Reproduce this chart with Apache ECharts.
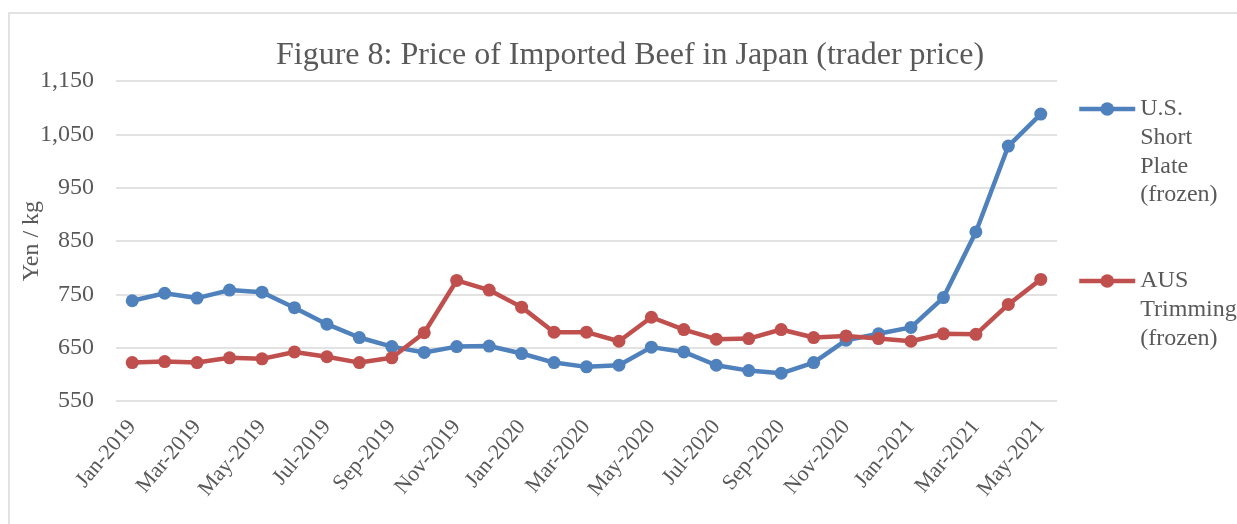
<!DOCTYPE html>
<html>
<head>
<meta charset="utf-8">
<script src="https://cdn.jsdelivr.net/npm/echarts@6/dist/echarts.min.js"></script>
<style>
  html, body { margin: 0; padding: 0; background: #fff; }
  #main { width: 1237px; height: 524px; }
</style>
</head>
<body>
<div id="main"></div>
<script>
// monthly trader price, yen/kg
var months = ['Jan-2019','Feb-2019','Mar-2019','Apr-2019','May-2019','Jun-2019','Jul-2019','Aug-2019','Sep-2019','Oct-2019','Nov-2019','Dec-2019',
              'Jan-2020','Feb-2020','Mar-2020','Apr-2020','May-2020','Jun-2020','Jul-2020','Aug-2020','Sep-2020','Oct-2020','Nov-2020','Dec-2020',
              'Jan-2021','Feb-2021','Mar-2021','Apr-2021','May-2021'];
var usShortPlate = [738, 752, 743, 758, 754, 725, 694, 669, 652, 641, 652, 653,
                    639, 622, 614, 617, 651, 642, 617, 607, 602, 622, 664, 676,
                    688, 744, 867, 1028, 1088];
var ausTrimming = [622, 624, 622, 631, 629, 642, 633, 622, 631, 678, 776, 758,
                   726, 679, 679, 662, 707, 684, 666, 667, 684, 669, 672, 667,
                   662, 676, 675, 731, 778];
var yTicks = [550, 650, 750, 850, 950, 1050, 1150];

var serif = 'Liberation Serif';
var grey = '#595959';
var lh = 28.7;

function legendBox(name, iconY) {
    // blank lines in front so the icon sits on the first text line
    var words = name.split(' ');
    var pad = '';
    for (var i = 1; i < words.length; i++) pad += ' \n';
    return {
        top: iconY - (words.length - 0.5) * lh,
        left: 1077,
        padding: 0,
        itemWidth: 56,
        itemHeight: 17,
        formatter: function (n) { return pad + n.split(' ').join('\n'); },
        textStyle: { fontFamily: serif, fontSize: 24, color: grey, lineHeight: lh },
        lineStyle: { width: 4.5 },
        data: [name]
    };
}

var chart = echarts.init(document.getElementById('main'));
var option = {
    backgroundColor: '#fff',
    animation: false,
    graphic: [{
        type: 'rect',
        shape: { x: 9, y: 13, width: 1240, height: 520 },
        style: { fill: 'none', stroke: '#d9d9d9', lineWidth: 1.5 }
    }],
    title: {
        text: 'Figure 8: Price of Imported Beef in Japan (trader price)',
        left: 276,
        top: 40,
        padding: 0,
        textStyle: { fontFamily: serif, fontSize: 32, fontWeight: 'normal', color: grey }
    },
    legend: [
        legendBox('U.S. Short Plate (frozen)', 109),
        legendBox('AUS Trimming (frozen)', 281)
    ],
    grid: { left: 116, right: 180, top: 81, bottom: 123 },
    xAxis: {
        type: 'category',
        data: months,
        boundaryGap: true,
        axisLine: { show: false },
        axisTick: { show: false },
        axisLabel: {
            interval: 1,
            rotate: 50,
            margin: 22,
            fontFamily: serif,
            fontSize: 22,
            color: grey
        }
    },
    yAxis: {
        type: 'value',
        min: 550,
        max: 1150,
        name: 'Yen / kg',
        nameLocation: 'middle',
        nameGap: 72,
        nameMoveOverlap: false,
        nameTextStyle: { fontFamily: serif, fontSize: 24, color: grey },
        axisLine: { show: false },
        axisTick: { show: false, customValues: yTicks },
        axisLabel: {
            customValues: yTicks,
            margin: 22,
            fontFamily: serif,
            fontSize: 24,
            color: grey,
            formatter: function (v) { return v.toLocaleString('en-US'); }
        },
        splitLine: { lineStyle: { color: '#d9d9d9', width: 1.5 } }
    },
    series: [
        {
            name: 'U.S. Short Plate (frozen)',
            type: 'line',
            data: usShortPlate,
            symbol: 'circle',
            symbolSize: 13,
            color: '#4f81bd',
            lineStyle: { width: 4.5 }
        },
        {
            name: 'AUS Trimming (frozen)',
            type: 'line',
            data: ausTrimming,
            symbol: 'circle',
            symbolSize: 13,
            color: '#c0504d',
            lineStyle: { width: 4.5 }
        }
    ]
};
chart.setOption(option);
</script>
</body>
</html>
